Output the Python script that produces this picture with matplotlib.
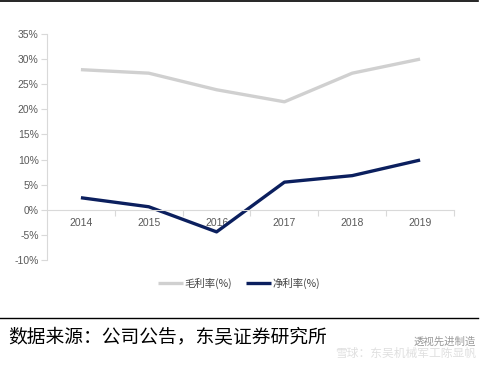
import matplotlib
matplotlib.use("Agg")
import matplotlib.pyplot as plt
from matplotlib.ticker import FuncFormatter, FixedLocator

plt.rcParams['font.family'] = ['Liberation Sans', 'Noto Sans CJK SC']

years = ["2014", "2015", "2016", "2017", "2018", "2019"]
gross_margin = [27.9, 27.2, 23.9, 21.5, 27.2, 30.0]
net_margin = [2.4, 0.6, -4.4, 5.5, 6.8, 9.9]
yticks = [-10, -5, 0, 5, 10, 15, 20, 25, 30, 35]

W, H = 485, 366
fig = plt.figure(figsize=(W / 100, H / 100), dpi=100)
fig.patch.set_facecolor("white")

left, right = 47 / W, 454 / W
top, bottom = 1 - 34 / H, 1 - 260 / H
ax = fig.add_axes([left, bottom, right - left, top - bottom])

x = list(range(len(years)))
gray = "#d0d0d0"
navy = "#0b1f5e"
ax.plot(x, gross_margin, color=gray, lw=2.4, solid_capstyle="butt", label="毛利率(%)")
ax.plot(x, net_margin, color=navy, lw=2.4, solid_capstyle="butt", label="净利率(%)")

ax.set_xlim(-0.5, len(years) - 0.5)
ax.set_ylim(-10, 35)
ax.set_yticks(yticks)
ax.yaxis.set_major_formatter(FuncFormatter(lambda v, p: f"{int(v)}%"))

for s in ["top", "right"]:
    ax.spines[s].set_visible(False)
ax.spines["left"].set_color("#d9d9d9")
ax.spines["bottom"].set_color("#d9d9d9")
ax.spines["bottom"].set_position(("data", 0))

ax.xaxis.set_major_locator(FixedLocator([i + 0.5 for i in range(len(years))]))
ax.xaxis.set_minor_locator(FixedLocator(x))
ax.set_xticklabels([])
ax.set_xticklabels(years, minor=True)
ax.tick_params(axis="x", which="major", length=4, color="#d9d9d9", direction="out")
ax.tick_params(axis="x", which="minor", length=0, pad=6, labelsize=7.5, labelcolor="#595959")
ax.tick_params(axis="y", length=4, color="#d9d9d9", labelsize=7.5, labelcolor="#595959", pad=2)

leg = fig.legend(loc="center", bbox_to_anchor=(239 / W, 1 - 283 / H), ncol=2,
                 frameon=False, handlelength=2.4, columnspacing=1.3,
                 handletextpad=0.2, prop={"family": ["Noto Sans CJK SC"], "size": 7.5})
for t in leg.get_texts():
    t.set_color("#404040")

# top and separator lines
fig.add_artist(plt.Line2D([0, 478 / W], [1 - 1 / H, 1 - 1 / H], color="black", lw=1.2))
fig.add_artist(plt.Line2D([0, 478 / W], [1 - 318 / H, 1 - 318 / H], color="black", lw=1.0))

fig.text(8 / W, 1 - 338 / H, "数据来源：公司公告，东吴证券研究所",
         family=["Noto Sans CJK SC"], fontsize=13.5, fontweight="light",
         color="black", va="center", ha="left")
fig.text(476 / W, 1 - 342 / H, "透视先进制造", family=["Noto Sans CJK SC"],
         fontsize=7.5, color="#9a9a9a", va="center", ha="right")
fig.text(476 / W, 1 - 353 / H, "雪球：东吴机械军工陈显帆", family=["Noto Sans CJK SC"],
         fontsize=8.5, color="#e0e0e0", va="center", ha="right")

fig.savefig("out.png", dpi=100)
